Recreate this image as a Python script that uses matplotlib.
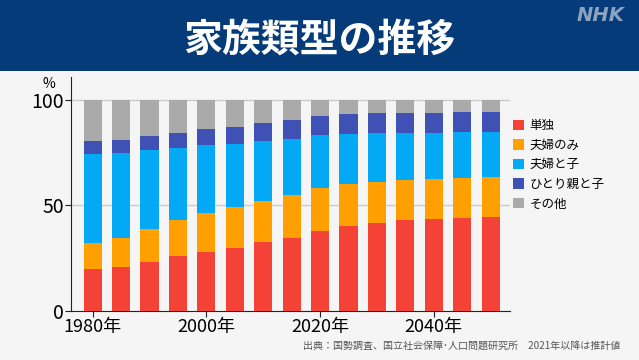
import matplotlib
matplotlib.use("Agg")
import matplotlib.pyplot as plt
import numpy as np

plt.rcParams['font.family'] = ['Noto Sans CJK JP', 'DejaVu Sans']

years = [1980, 1985, 1990, 1995, 2000, 2005, 2010, 2015, 2020, 2025, 2030, 2035, 2040, 2045, 2050]
categories = ["単独", "夫婦のみ", "夫婦と子", "ひとり親と子", "その他"]
single = [19.7, 20.8, 23.2, 25.7, 27.6, 29.5, 32.5, 34.5, 38.0, 40.2, 41.6, 42.9, 43.5, 44.0, 44.5]
couple = [12.6, 13.7, 15.4, 17.4, 18.9, 19.7, 19.7, 20.2, 20.2, 19.7, 19.6, 19.1, 19.0, 18.9, 18.7]
couple_child = [42.1, 40.1, 37.4, 34.2, 32.0, 29.8, 28.1, 26.8, 25.1, 24.0, 22.9, 22.2, 21.9, 21.8, 21.7]
single_parent = [5.9, 6.2, 6.8, 6.9, 7.5, 8.2, 8.7, 8.7, 9.0, 9.3, 9.6, 9.6, 9.4, 9.3, 9.1]
other = [19.7, 19.2, 17.2, 15.8, 14.0, 12.8, 11.0, 9.8, 7.7, 6.8, 6.3, 6.2, 6.2, 6.0, 6.0]
series = [single, couple, couple_child, single_parent, other]
colors = ["#f44336", "#ffa000", "#03a9f4", "#3f51b5", "#aaaaaa"]
xtick_years = [1980, 2000, 2020, 2040]
xtick_labels = ["1980年", "2000年", "2020年", "2040年"]
ytick_vals = [0, 50, 100]

fig = plt.figure(figsize=(6.39, 3.6), dpi=100)
fig.patch.set_facecolor("#f5f5f5")

# title banner
banner = fig.add_axes([0, 1 - 71 / 360, 1, 71 / 360])
banner.set_facecolor("#053b79")
banner.set_xticks([]); banner.set_yticks([])
for s in banner.spines.values():
    s.set_visible(False)
banner.text(0.5, 0.43, "家族類型の推移", color="white", fontsize=28, fontweight="bold",
            ha="center", va="center", transform=banner.transAxes)
banner.text(0.978, 0.78, "NHK", color="#8aa3c2", fontsize=14, fontweight="bold", style="italic",
            ha="right", va="center", transform=banner.transAxes, family="DejaVu Sans")

ax = fig.add_axes([71 / 639, (360 - 310.7) / 360, (510 - 71) / 639, (310.7 - 77) / 360])
ax.set_facecolor("#f5f5f5")
bottom = np.zeros(len(years))
for vals, col, lab in zip(series, colors, categories):
    ax.bar(years, vals, width=3.2, bottom=bottom, color=col, label=lab, zorder=3)
    bottom += np.array(vals)

ax.set_xlim(1976.2, 2053.4)
ax.set_ylim(0, 110.8)
ax.set_yticks(ytick_vals)
ax.set_yticklabels([str(v) for v in ytick_vals], fontsize=14)
ax.set_xticks(xtick_years)
ax.set_xticklabels(xtick_labels, fontsize=13)
for y in [50, 100]:
    ax.axhline(y, color="#cccccc", lw=1, zorder=1)
for s in ["top", "right"]:
    ax.spines[s].set_visible(False)
ax.spines["left"].set_color("#222222")
ax.spines["bottom"].set_color("#222222")
ax.tick_params(axis="both", length=4, color="#222222", pad=1)
ax.text(-0.035, 1.0, "%", transform=ax.transAxes, fontsize=10, ha="right", va="top")

handles, labels = ax.get_legend_handles_labels()
fig.legend(handles, labels, loc="upper left", bbox_to_anchor=(508 / 639, 1 - 114 / 360),
           frameon=False, fontsize=9, handlelength=0.9, handleheight=0.9, handletextpad=0.4,
           labelspacing=0.53, borderaxespad=0)

fig.text(620 / 639, 1 - 346 / 360, "出典：国勢調査、国立社会保障･人口問題研究所　2021年以降は推計値",
         fontsize=7.2, color="#555555", ha="right", va="center")

fig.savefig("out.png", dpi=100, facecolor=fig.get_facecolor())
